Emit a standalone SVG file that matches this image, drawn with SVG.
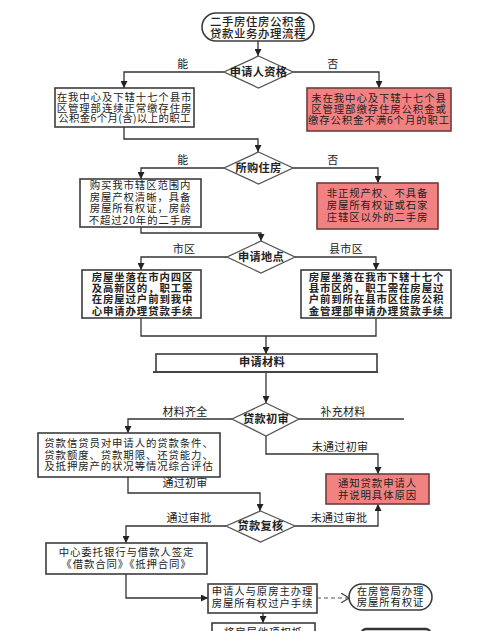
<svg xmlns="http://www.w3.org/2000/svg" width="500" height="631" viewBox="0 0 500 631">
<defs>
<style>
text{font-family:"Noto Sans CJK SC","Noto Sans",sans-serif;font-size:10.4px;letter-spacing:0.9px;fill:#222;text-anchor:middle}
.b{font-weight:bold}
.d{font-size:11.2px;letter-spacing:0.3px;font-weight:bold}
.t{font-size:11.4px;letter-spacing:0.6px;font-weight:500}
.box{fill:#fff;stroke:#3c3c3c;stroke-width:1.6}
.red{fill:#f28282;stroke:#6e3c3c;stroke-width:1.6}
.dia{fill:#fff;stroke:#555;stroke-width:1.3}
.ln{fill:none;stroke:#333;stroke-width:1.3}
.dash{fill:none;stroke:#555;stroke-width:1.2;stroke-dasharray:4 3}
.lbl{font-size:11px;letter-spacing:0.3px}
</style>
<marker id="ar" viewBox="0 0 8 8" refX="8" refY="4" markerWidth="7" markerHeight="7" markerUnits="userSpaceOnUse" orient="auto">
<path d="M0,0 L8,4 L0,8 z" fill="#222"/>
</marker>
<marker id="op" viewBox="0 0 8 10" refX="8" refY="5" markerWidth="8" markerHeight="10" markerUnits="userSpaceOnUse" orient="auto">
<path d="M0,0 L8,5 L0,10" fill="none" stroke="#444" stroke-width="1.2"/>
</marker>
</defs>
<rect width="500" height="631" fill="#fff"/>

<g id="connectors">
<path class="ln" d="M258,41 V56" marker-end="url(#ar)"/>
<path class="ln" d="M224,72 H124 V88" marker-end="url(#ar)"/>
<path class="ln" d="M293,72 H379 V88" marker-end="url(#ar)"/>
<path class="ln" d="M124,127 V139 H258 V152" marker-end="url(#ar)"/>
<path class="ln" d="M224,168 H141 V179" marker-end="url(#ar)"/>
<path class="ln" d="M293,168 H378 V183" marker-end="url(#ar)"/>
<path class="ln" d="M141,227 V233 H261 V241" marker-end="url(#ar)"/>
<path class="ln" d="M227,257 H141 V270" marker-end="url(#ar)"/>
<path class="ln" d="M295,257 H376 V270" marker-end="url(#ar)"/>
<path class="ln" d="M141,318 V336 H376 V318"/>
<path class="ln" d="M266,336 V354" marker-end="url(#ar)"/>
<path class="ln" d="M266,372 V403" marker-end="url(#ar)"/>
<path class="ln" d="M232,419 H128 V433" marker-end="url(#ar)"/>
<path class="ln" d="M299,419 H404"/>
<path class="ln" d="M266,436 V454 H378 V474" marker-end="url(#ar)"/>
<path class="ln" d="M128,477 V493 H260 V511" marker-end="url(#ar)"/>
<path class="ln" d="M226,526 H126 V543" marker-end="url(#ar)"/>
<path class="ln" d="M295,526 H378 V504" marker-end="url(#ar)"/>
<path class="ln" d="M126,574 V598 H208" marker-end="url(#ar)"/>
<path class="dash" d="M317,598 H349" marker-end="url(#op)"/>
<path class="ln" d="M263,613 V623" marker-end="url(#ar)"/>
<text class="lbl" x="183" y="68">能</text>
<text class="lbl" x="333" y="68">否</text>
<text class="lbl" x="183" y="164">能</text>
<text class="lbl" x="333" y="164">否</text>
<text class="lbl" x="184" y="253">市区</text>
<text class="lbl" x="346" y="253">县市区</text>
<text class="lbl" x="185" y="416">材料齐全</text>
<text class="lbl" x="343" y="416">补充材料</text>
<text class="lbl" x="340" y="451">未通过初审</text>
<text class="lbl" x="185" y="487">通过初审</text>
<text class="lbl" x="189" y="522">通过审批</text>
<text class="lbl" x="339" y="522">未通过审批</text>
</g>

<g id="title">
<rect class="box" x="202" y="13" width="112" height="28" rx="14" stroke-width="1.3"/>
<text class="t"><tspan x="258" y="26">二手房住房公积金</tspan><tspan x="258" y="38">贷款业务办理流程</tspan></text>
</g>

<g id="d1">
<polygon class="dia" points="258.5,56 293,72 258.5,88 224,72"/>
<text class="d" x="258.5" y="76">申请人资格</text>
</g>

<g id="box1">
<rect class="box" x="55" y="88" width="139" height="39"/>
<text><tspan x="124.5" y="101">在我中心及下辖十七个县市</tspan><tspan x="124.5" y="112">区管理部连续正常缴存住房</tspan><tspan x="124.5" y="122" letter-spacing="0.4">公积金6个月(含)以上的职工</tspan></text>
</g>

<g id="red1">
<rect class="red" x="307" y="88" width="144" height="43"/>
<text><tspan x="379" y="102">未在我中心及下辖十七个县</tspan><tspan x="379" y="113">区管理部缴存住房公积金或</tspan><tspan x="379" y="124">缴存公积金不满6个月的职工</tspan></text>
</g>

<g id="d2">
<polygon class="dia" points="258.5,152 293,168 258.5,184 224,168"/>
<text class="d" x="258.5" y="172">所购住房</text>
</g>

<g id="box2">
<rect class="box" x="80" y="179" width="121" height="48"/>
<text><tspan x="140.5" y="189">购买我市辖区范围内</tspan><tspan x="140.5" y="201">房屋产权清晰，具备</tspan><tspan x="140.5" y="212">房屋所有权证，房龄</tspan><tspan x="140.5" y="224">不超过20年的二手房</tspan></text>
</g>

<g id="red2">
<rect class="red" x="317" y="183" width="121" height="46"/>
<text><tspan x="377.5" y="197">非正规产权、不具备</tspan><tspan x="377.5" y="209">房屋所有权证或石家</tspan><tspan x="377.5" y="221">庄辖区以外的二手房</tspan></text>
</g>

<g id="d3">
<polygon class="dia" points="261,241 295,257 261,273 227,257"/>
<text class="d" x="261" y="261">申请地点</text>
</g>

<g id="box3l">
<rect class="box" x="82" y="270" width="119" height="48"/>
<text class="b" letter-spacing="2"><tspan x="142.5" y="281">房屋坐落在市内四区</tspan><tspan x="142.5" y="292">及高新区的，职工需</tspan><tspan x="142.5" y="303">在房屋过户前到我中</tspan><tspan x="142.5" y="315">心申请办理贷款手续</tspan></text>
</g>

<g id="box3r">
<rect class="box" x="301" y="270" width="150" height="48"/>
<text class="b" letter-spacing="1.6"><tspan x="376.5" y="281">房屋坐落在我市下辖十七个</tspan><tspan x="376.5" y="292">县市区的，职工需在房屋过</tspan><tspan x="376.5" y="303">户前到所在县市区住房公积</tspan><tspan x="376.5" y="315">金管理部申请办理贷款手续</tspan></text>
</g>

<g id="materials">
<rect class="box" x="156" y="354" width="221" height="18" stroke-width="1.3"/>
<path d="M153,372 H378" stroke="#444" stroke-width="2" fill="none"/>
<text class="d" x="262" y="366" letter-spacing="1">申请材料</text>
</g>

<g id="d4">
<polygon class="dia" points="266,403 299,419 266,436 232,419"/>
<text class="d" x="266" y="423">贷款初审</text>
</g>

<g id="box4">
<rect class="box" x="38" y="433" width="182" height="44"/>
<text><tspan x="129" y="447">贷款信贷员对申请人的贷款条件、</tspan><tspan x="129" y="459">贷款额度、贷款期限、还贷能力、</tspan><tspan x="129" y="470">及抵押房产的状况等情况综合评估</tspan></text>
</g>

<g id="red4">
<rect class="red" x="326" y="474" width="103" height="30"/>
<text><tspan x="377.5" y="487">通知贷款申请人</tspan><tspan x="377.5" y="499">并说明具体原因</tspan></text>
</g>

<g id="d5">
<polygon class="dia" points="260.5,511 295,526 260.5,542 226,526"/>
<text class="d" x="260.5" y="530">贷款复核</text>
</g>

<g id="box5">
<rect class="box" x="46" y="543" width="161" height="31"/>
<text letter-spacing="1.1"><tspan x="126.5" y="556">中心委托银行与借款人签定</tspan><tspan x="126.5" y="568">《借款合同》《抵押合同》</tspan></text>
</g>

<g id="box6">
<rect class="box" x="208" y="584" width="109" height="29"/>
<text letter-spacing="1.1"><tspan x="262.5" y="595">申请人与原房主办理</tspan><tspan x="262.5" y="607">房屋所有权过户手续</tspan></text>
</g>

<g id="cert">
<rect class="box" x="349" y="584" width="83" height="26" rx="13" stroke-width="1.3"/>
<text><tspan x="390.5" y="595">在房管局办理</tspan><tspan x="390.5" y="606">房屋所有权证</tspan></text>
</g>

<g id="box7">
<rect class="box" x="212" y="623" width="103" height="20"/>
<text x="263.5" y="636" letter-spacing="2">将房屋他项权抵</text>
</g>

<g id="next">
<rect x="362" y="629" width="68" height="14" rx="4" fill="#fff" stroke="#333" stroke-width="2.4"/>
</g>
</svg>
